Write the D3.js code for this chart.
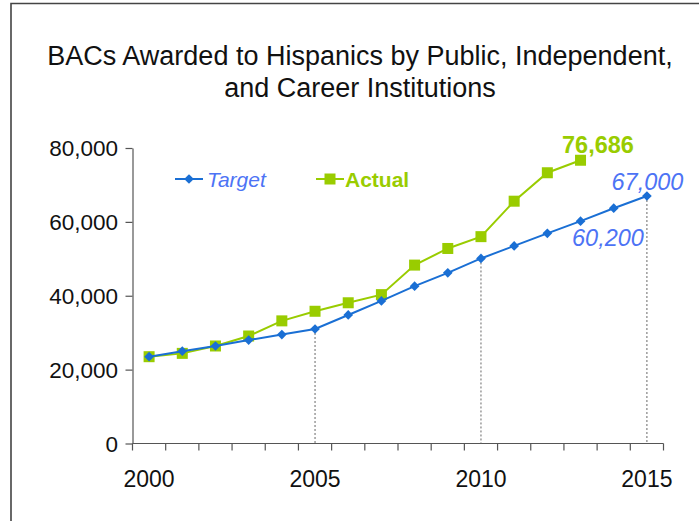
<!DOCTYPE html>
<html>
<head>
<meta charset="utf-8">
<script src="https://cdn.jsdelivr.net/npm/d3@7"></script>
<style>
  html, body { margin: 0; padding: 0; background: #fff; }
  svg { display: block; font-family: "Liberation Sans", Arial, sans-serif; }
</style>
</head>
<body>
<svg id="chart" width="699" height="521"></svg>
<script>
const years = [2000, 2001, 2002, 2003, 2004, 2005, 2006, 2007, 2008, 2009, 2010, 2011, 2012, 2013, 2014, 2015];
const targetValues = [23500, 25000, 26400, 28000, 29500, 31000, 34800, 38600, 42600, 46200, 50100, 53500, 56900, 60200, 63700, 67000];
const actualValues = [23500, 24400, 26400, 29100, 33200, 35800, 38100, 40300, 48300, 52800, 56000, 65600, 73300, 76686];
const yTicks = [0, 20000, 40000, 60000, 80000];
const xTickLabels = [2000, 2005, 2010, 2015];
const dropYears = [2005, 2010, 2015];
const titleLines = ["BACs Awarded to Hispanics by Public, Independent,", "and Career Institutions"];

const svg = d3.select("#chart");
const blue = "#1a6fd4", green = "#99cc00", labelBlue = "#4d73f5";

function stext(g, x, y, str, size, anchor) {
  return g.append("text")
    .attr("x", x).attr("y", y)
    .attr("text-anchor", anchor || "middle")
    .attr("font-size", size).text(str);
}

// frame
svg.append("path").attr("d", "M11,530 L11,3.5 L710,3.5")
  .attr("fill", "none").attr("stroke", "#444").attr("stroke-width", 1.6);

// title
titleLines.forEach((t, i) => {
  stext(svg, 360, 65 + i * 32, t, 27).attr("fill", "#111");
});

const x = d3.scaleBand().domain(years).range([132.5, 663.5]);
const y = d3.scaleLinear().domain([0, 80000]).range([443.5, 148]);
const cx = d => x(d) + x.bandwidth() / 2;

// y axis
const yAxis = d3.axisLeft(y).tickValues(yTicks).tickSize(7).tickSizeOuter(0).tickFormat("");
const gy = svg.append("g").attr("transform", "translate(132.5,0)").call(yAxis);
gy.select(".domain").attr("stroke", "#555").attr("stroke-width", 1.2);
gy.selectAll(".tick line").attr("stroke", "#555").attr("stroke-width", 1.2);
const yl = svg.append("g").attr("fill", "#111");
yTicks.forEach(v => {
  stext(yl, 118, y(v) + 8, d3.format(",")(v), 22.5, "end");
});

// x axis: ticks at band boundaries
const boundaries = years.map(d => x(d)).concat([x(years[years.length - 1]) + x.bandwidth()]);
const gx = svg.append("g");
gx.append("line").attr("x1", 132.5).attr("x2", 663.5).attr("y1", 443.5).attr("y2", 443.5)
  .attr("stroke", "#555").attr("stroke-width", 1.2);
gx.selectAll("line.t").data(boundaries).join("line").attr("class", "t")
  .attr("x1", d => d).attr("x2", d => d).attr("y1", 443.5).attr("y2", 450.5)
  .attr("stroke", "#555").attr("stroke-width", 1.2);
const xl = svg.append("g").attr("fill", "#111");
xTickLabels.forEach(v => {
  stext(xl, cx(v), 486.5, String(v), 23);
});

// drop lines
const tIndex = d => years.indexOf(d);
svg.append("g").selectAll("line").data(dropYears).join("line")
  .attr("x1", d => cx(d)).attr("x2", d => cx(d))
  .attr("y1", d => y(targetValues[tIndex(d)])).attr("y2", 443.5)
  .attr("stroke", "#666").attr("stroke-width", 1).attr("stroke-dasharray", "2,2");

const line = d3.line().x(d => cx(d[0])).y(d => y(d[1]));
const tData = years.map((yr, i) => [yr, targetValues[i]]);
const aData = actualValues.map((v, i) => [years[i], v]);

// actual series
svg.append("path").datum(aData).attr("d", line).attr("fill", "none")
  .attr("stroke", green).attr("stroke-width", 2);
svg.append("g").selectAll("rect").data(aData).join("rect")
  .attr("x", d => cx(d[0]) - 5.5).attr("y", d => y(d[1]) - 5.5)
  .attr("width", 11).attr("height", 11).attr("fill", green);

// target series
svg.append("path").datum(tData).attr("d", line).attr("fill", "none")
  .attr("stroke", blue).attr("stroke-width", 2);
const diamond = d3.symbol().type(d3.symbolDiamond2).size(60);
svg.append("g").selectAll("path").data(tData).join("path")
  .attr("d", diamond).attr("transform", d => `translate(${cx(d[0])},${y(d[1])})`)
  .attr("fill", blue);

// legend
const lg = svg.append("g");
lg.append("line").attr("x1", 175).attr("x2", 203).attr("y1", 179).attr("y2", 179)
  .attr("stroke", blue).attr("stroke-width", 2);
lg.append("path").attr("d", diamond).attr("transform", "translate(189,179)").attr("fill", blue);
stext(lg, 207, 186.5, "Target", 21, "start").attr("font-style", "italic").attr("fill", labelBlue);
lg.append("line").attr("x1", 316).attr("x2", 344).attr("y1", 179).attr("y2", 179)
  .attr("stroke", green).attr("stroke-width", 2);
lg.append("rect").attr("x", 324.5).attr("y", 173.5).attr("width", 11).attr("height", 11).attr("fill", green);
stext(lg, 345, 186.5, "Actual", 21, "start").attr("font-weight", "bold").attr("fill", green);

// data labels
const lastA = aData[aData.length - 1];
stext(svg, 598, 153, d3.format(",")(lastA[1]), 23.5)
  .attr("font-weight", "bold").attr("fill", green);
const lastT = tData[tData.length - 1];
stext(svg, 647.5, 189.5, d3.format(",")(lastT[1]), 23.5)
  .attr("font-style", "italic").attr("fill", labelBlue);
stext(svg, 608, 245.5, d3.format(",")(targetValues[years.indexOf(2013)]), 23.5)
  .attr("font-style", "italic").attr("fill", labelBlue);
</script>
</body>
</html>
